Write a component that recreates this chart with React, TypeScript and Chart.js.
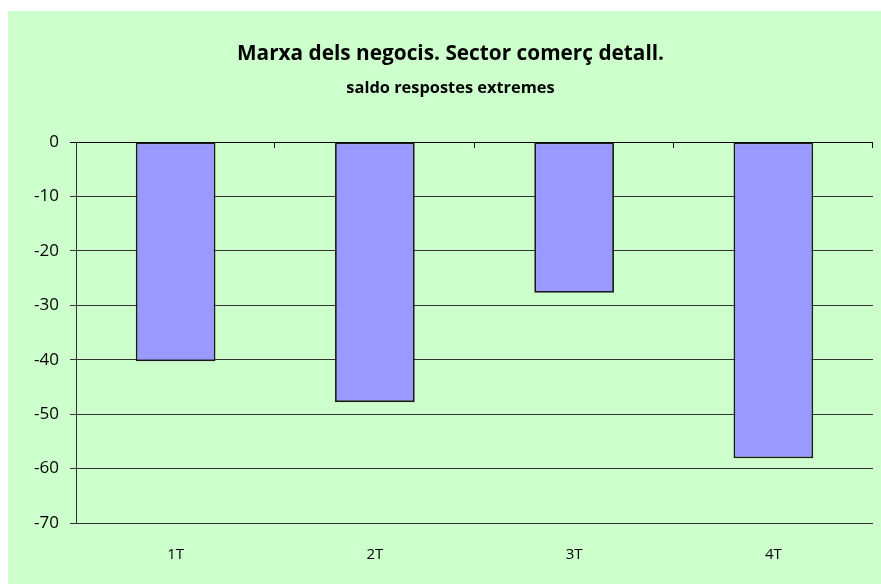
import React, { useEffect, useRef } from "react";
import { Chart, registerables } from "chart.js";

Chart.register(...registerables);

const categories: string[] = ["1T", "2T", "3T", "4T"];
const saldo: number[] = [-40.3, -47.8, -27.7, -58.1];
const yTicks: number[] = [0, -10, -20, -30, -40, -50, -60, -70];
const titleText = "Marxa dels negocis. Sector comerç detall.";
const subtitleText = "saldo respostes extremes";

const topTicksPlugin = {
  id: "topTicks",
  afterDatasetsDraw(chart: any) {
    const xs = chart.scales.x;
    const ys = chart.scales.y;
    const ctx = chart.ctx;
    const n = categories.length;
    const y0 = ys.getPixelForValue(0);
    ctx.save();
    ctx.strokeStyle = "#000";
    ctx.lineWidth = 1;
    for (let i = 1; i <= n; i++) {
      const x = Math.round(xs.left + (i * xs.width) / n) - 0.5;
      ctx.beginPath();
      ctx.moveTo(x, y0);
      ctx.lineTo(x, y0 + 6);
      ctx.stroke();
    }
    ctx.restore();
  },
};

export default function App() {
  const ref = useRef<HTMLCanvasElement | null>(null);
  useEffect(() => {
    if (!ref.current) return;
    const chart = new Chart(ref.current, {
      type: "bar",
      data: {
        labels: categories,
        datasets: [
          {
            data: saldo,
            backgroundColor: "#9999FF",
            borderColor: "#1a1a1a",
            borderWidth: 1.8,
            borderSkipped: false,
            barPercentage: 0.4,
            categoryPercentage: 1,
          },
        ],
      },
      options: {
        responsive: false,
        animation: false,
        devicePixelRatio: 1,
        layout: { padding: { top: 31, left: 20, right: 8, bottom: 0 } },
        plugins: {
          legend: { display: false },
          tooltip: { enabled: false },
          title: {
            display: true,
            text: titleText,
            color: "#000",
            font: { family: "'Open Sans'", size: 20.8, weight: "bold", lineHeight: "24px" },
            padding: { top: 0, bottom: 0 },
          },
          subtitle: {
            display: true,
            text: subtitleText,
            color: "#000",
            font: { family: "'Open Sans'", size: 16.4, weight: "bold", lineHeight: "20px" },
            padding: { top: 12, bottom: 44 },
          },
        },
        scales: {
          x: {
            afterFit(scale: any) {
              scale.height = 61;
            },
            grid: { display: false, drawTicks: false },
            border: { display: false },
            ticks: {
              color: "#000",
              padding: 23,
              font: { family: "'Open Sans'", size: 15 },
            },
          },
          y: {
            min: -70,
            max: 0,
            afterFit(scale: any) {
              scale.width = 48;
            },
            afterBuildTicks(scale: any) {
              scale.ticks = yTicks.map((v) => ({ value: v }));
            },
            grid: {
              color: (c: any) => (c.tick && c.tick.value === 0 ? "#000" : "#333"),
              lineWidth: 1,
              tickLength: 6,
              drawTicks: true,
            },
            border: { display: true, color: "#333", width: 1 },
            ticks: {
              color: "#000",
              padding: 11,
              font: { family: "'Open Sans'", size: 17 },
            },
          },
        },
      },
      plugins: [topTicksPlugin],
    });
    return () => chart.destroy();
  }, []);

  return (
    <>
      <style>{"html,body{overflow:hidden;}"}</style>
      <div
        style={{
          position: "absolute",
          left: 8,
          top: 11,
          width: 873,
          height: 573,
          background: "#CCFFCC",
          overflow: "hidden",
        }}
      >
        <canvas
          ref={ref}
          width={873}
          height={573}
          style={{ display: "block", width: 873, height: 573 }}
        />
      </div>
    </>
  );
}
